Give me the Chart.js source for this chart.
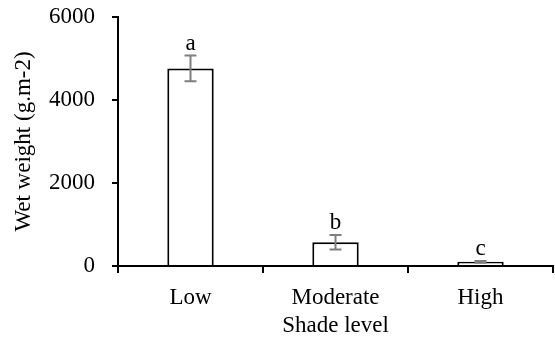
<!DOCTYPE html>
<html>
<head>
<meta charset="utf-8">
<script src="https://cdn.jsdelivr.net/npm/chart.js@4"></script>
<style>
  html, body { margin: 0; padding: 0; background: #fff; }
  #wrap { width: 555px; height: 342px; }
</style>
</head>
<body>
<div id="wrap"><canvas id="myChart" width="555" height="342"></canvas></div>
<script>
// values
const categories = ['Low', 'Moderate', 'High'];
const wetWeight = [4760, 570, 100];
const errors = [310, 175, 20];
const letters = ['a', 'b', 'c'];
const yTicks = [0, 2000, 4000, 6000];

const font = 'Liberation Serif';
const ctx = document.getElementById('myChart');

// error bars + significance letters
const errorBarPlugin = {
  id: 'errorBars',
  afterDatasetsDraw(chart) {
    const c = chart.ctx;
    const y = chart.scales.y;
    const meta = chart.getDatasetMeta(0);
    c.save();
    meta.data.forEach((bar, i) => {
      const x = bar.x;
      const top = y.getPixelForValue(wetWeight[i] + errors[i]);
      const bot = y.getPixelForValue(wetWeight[i] - errors[i]);
      c.strokeStyle = '#7f7f7f';
      c.lineWidth = 2;
      c.beginPath();
      c.moveTo(x, top); c.lineTo(x, bot);
      c.moveTo(x - 6, top); c.lineTo(x + 6, top);
      c.moveTo(x - 6, bot); c.lineTo(x + 6, bot);
      c.stroke();
      c.fillStyle = '#000';
      c.font = '23px "' + font + '"';
      c.textAlign = 'center';
      c.textBaseline = 'alphabetic';
      c.fillText(letters[i], x, top - 6);
    });
    c.restore();
  }
};

new Chart(ctx, {
  type: 'bar',
  data: {
    labels: categories,
    datasets: [{
      label: 'Wet weight',
      data: wetWeight,
      backgroundColor: '#fff',
      borderColor: '#000',
      borderWidth: 2,
      barPercentage: 0.32,
      categoryPercentage: 1
    }]
  },
  options: {
    responsive: false,
    animation: false,
    layout: { padding: { top: 17, right: 2, left: 0, bottom: 0 } },
    plugins: { legend: { display: false }, tooltip: { enabled: false } },
    scales: {
      x: {
        afterFit: (s) => { s.height = 76; s.paddingLeft = 0; s.paddingRight = 0; },
        grid: { drawOnChartArea: false, color: '#000', tickLength: 7, lineWidth: 2 },
        border: { color: '#000', width: 2 },
        ticks: { color: '#000', font: { family: font, size: 23 }, padding: 11 },
        title: { display: true, text: 'Shade level', color: '#000', font: { family: font, size: 23 }, padding: { top: 0, bottom: 2 } }
      },
      y: {
        min: 0,
        max: 6000,
        afterFit: (s) => { s.width = 118; s.paddingTop = 0; s.paddingBottom = 0; },
        afterBuildTicks: (s) => { s.ticks = yTicks.map(v => ({ value: v })); },
        grid: { drawOnChartArea: false, color: '#000', tickLength: 6, lineWidth: 2 },
        border: { color: '#000', width: 2 },
        ticks: { color: '#000', font: { family: font, size: 23 }, padding: 17, callback: (v) => String(v) },
        title: { display: true, text: 'Wet weight (g.m-2)', color: '#000', font: { family: font, size: 23 }, padding: { top: 10, bottom: 0 } }
      }
    }
  },
  plugins: [errorBarPlugin]
});
</script>
</body>
</html>
